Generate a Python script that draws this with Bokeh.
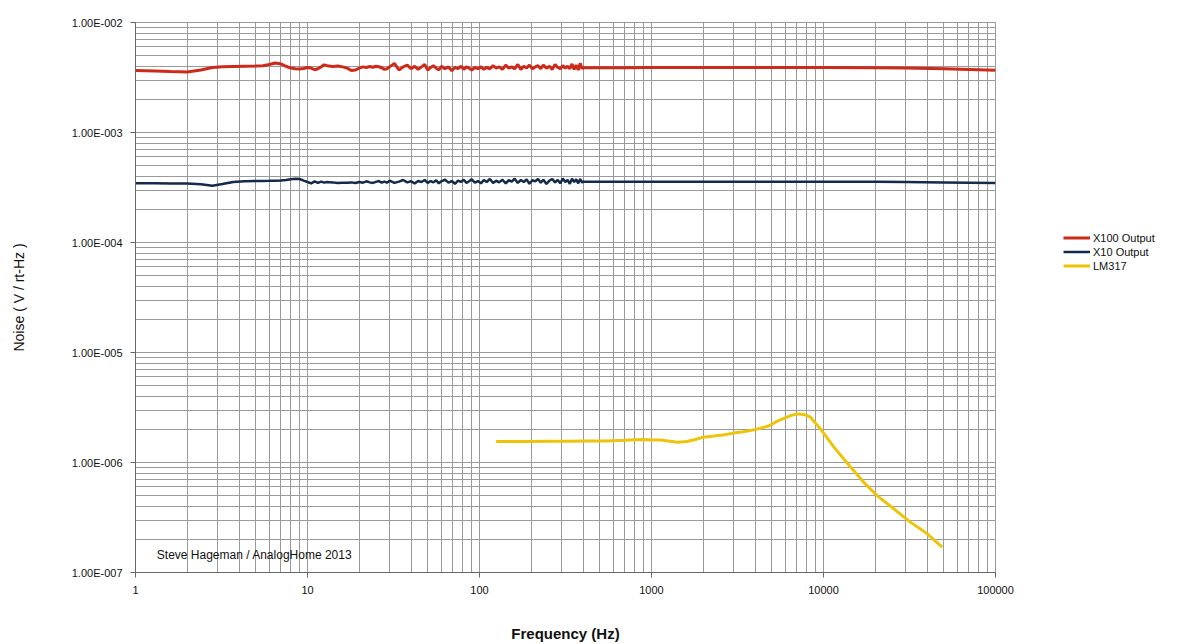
from bokeh.plotting import figure
from bokeh.layouts import row
from bokeh.models import (Range1d, FixedTicker, CustomJSTickFormatter, Legend,
                          LegendItem, Label)
from bokeh.embed import file_html
from bokeh.resources import INLINE

# ---------------- data ----------------
FREQ = [1, 1.3, 1.6, 2, 2.4, 2.8, 3.2, 3.7, 4.3, 5,
        5.5, 6, 6.5, 7, 7.5, 8, 8.5, 9, 9.5, 10,
        10.5, 11, 11.5, 12, 12.5, 13, 14, 15, 16, 17,
        18, 19, 20, 21, 22, 23, 24, 25, 26, 27,
        28, 29, 30, 32, 34, 36, 38, 40, 42, 44,
        46, 48, 50, 52, 54, 56, 58, 60, 63, 66,
        69, 72, 75, 78, 81, 84, 87, 90, 94, 98,
        102, 106, 110, 115, 120, 125, 130, 136, 142, 148,
        154, 160, 167, 174, 181, 188, 195, 203, 211, 219,
        227, 235, 245, 255, 265, 275, 285, 295, 305, 315,
        325, 335, 345, 355, 365, 375, 385, 395, 400, 410,
        500, 700, 1000, 2000, 5000, 10000, 20000, 30000, 50000, 100000]

X100_mV = [3.66, 3.62, 3.58, 3.55, 3.70, 3.90, 3.96, 3.98, 4.00, 4.02,
           4.05, 4.15, 4.28, 4.20, 4.00, 3.85, 3.80, 3.78, 3.82, 3.90,
           3.85, 3.72, 3.80, 3.95, 4.12, 4.05, 3.98, 4.02, 3.95, 3.85,
           3.66, 3.70, 3.85, 3.95, 3.90, 3.98, 3.92, 4.00, 3.96, 3.88,
           3.75, 3.80, 3.95, 4.25, 3.70, 3.95, 4.10, 3.80, 4.00, 3.75,
           3.95, 4.15, 3.70, 3.90, 4.05, 3.85, 3.70, 4.00, 3.80, 3.95,
           3.65, 3.90, 3.80, 4.00, 3.75, 3.95, 3.85, 3.70, 3.90, 3.80,
           3.95, 3.75, 3.90, 3.80, 4.05, 3.85, 3.95, 3.75, 4.10, 3.85,
           3.95, 3.80, 4.15, 3.75, 4.00, 3.85, 4.10, 3.80, 3.95, 4.05,
           3.80, 4.10, 3.85, 4.00, 3.75, 4.15, 3.90, 3.80, 4.05, 3.85,
           4.00, 3.80, 4.20, 3.75, 4.10, 3.70, 4.25, 3.80, 3.90, 3.88,
           3.88, 3.88, 3.90, 3.90, 3.90, 3.90, 3.88, 3.85, 3.80, 3.68]

X10_100uV = [3.45, 3.45, 3.44, 3.44, 3.38, 3.28, 3.40, 3.55, 3.60, 3.62,
             3.63, 3.64, 3.65, 3.66, 3.70, 3.76, 3.80, 3.78, 3.65, 3.55,
             3.45, 3.60, 3.48, 3.58, 3.50, 3.55, 3.52, 3.48, 3.50, 3.50,
             3.52, 3.48, 3.55, 3.50, 3.60, 3.52, 3.48, 3.56, 3.62, 3.50,
             3.58, 3.50, 3.65, 3.48, 3.58, 3.70, 3.52, 3.60, 3.45, 3.62,
             3.55, 3.70, 3.48, 3.62, 3.52, 3.68, 3.45, 3.60, 3.72, 3.50,
             3.62, 3.42, 3.65, 3.55, 3.72, 3.48, 3.60, 3.75, 3.50, 3.62,
             3.45, 3.70, 3.55, 3.78, 3.48, 3.65, 3.52, 3.72, 3.45, 3.68,
             3.58, 3.80, 3.48, 3.70, 3.55, 3.75, 3.42, 3.68, 3.60, 3.78,
             3.50, 3.72, 3.40, 3.65, 3.78, 3.52, 3.70, 3.45, 3.82, 3.55,
             3.70, 3.42, 3.80, 3.55, 3.75, 3.45, 3.78, 3.50, 3.58, 3.56,
             3.56, 3.56, 3.56, 3.56, 3.56, 3.56, 3.56, 3.55, 3.52, 3.48]

LM_FREQ = [125, 160, 200, 260, 330, 420, 520, 600, 700, 800,
           900, 1000, 1130, 1250, 1410, 1600, 1800, 2000, 2300, 2600,
           3000, 3400, 3760, 4300, 4800, 5380, 6000, 6500, 7030, 7800,
           8400, 9610, 11500, 14360, 17150, 20500, 25600, 32000, 40100, 49000]
LM317_uV = [1.55, 1.55, 1.55, 1.56, 1.56, 1.57, 1.57, 1.58, 1.59, 1.61,
            1.62, 1.60, 1.60, 1.57, 1.53, 1.55, 1.62, 1.70, 1.74, 1.78,
            1.85, 1.90, 1.95, 2.05, 2.15, 2.38, 2.55, 2.68, 2.77, 2.72,
            2.58, 2.02, 1.38, 0.91, 0.66, 0.50, 0.38, 0.287, 0.225, 0.17]

X_TICKS = [1, 10, 100, 1000, 10000, 100000]
Y_TICKS = [1e-7, 1e-6, 1e-5, 1e-4, 1e-3, 1e-2]
SERIES_NAMES = ["X100 Output", "X10 Output", "LM317"]
SERIES_COLORS = ["#cc2a1a", "#142a48", "#ecc40a"]
SERIES_WIDTHS = [3, 2.5, 3]
CREDIT = "Steve Hageman / AnalogHome 2013"

x100 = [v * 1e-3 for v in X100_mV]
x10 = [v * 1e-4 for v in X10_100uV]
lm = [v * 1e-6 for v in LM317_uV]

x_minor = [m * d for d in X_TICKS[:-1] for m in range(2, 10)]
y_minor = [m * d for d in Y_TICKS[:-1] for m in range(2, 10)]

FONT = "Liberation Sans"
GRID = "#9a9a9a"

p = figure(width=1040, height=644, x_axis_type="log", y_axis_type="log",
           x_range=Range1d(1, 100000), y_range=Range1d(1e-7, 1e-2),
           output_backend="svg", toolbar_location=None,
           min_border_left=135, min_border_top=22, min_border_right=45,
           min_border_bottom=72,
           background_fill_color="white", border_fill_color="white",
           outline_line_color=GRID)

p.xaxis.ticker = FixedTicker(ticks=X_TICKS, minor_ticks=x_minor)
p.yaxis.ticker = FixedTicker(ticks=Y_TICKS, minor_ticks=y_minor)
p.xaxis.formatter = CustomJSTickFormatter(code="return tick.toFixed(0);")
p.yaxis.formatter = CustomJSTickFormatter(code="""
const parts = tick.toExponential(2).split('e');
const n = parseInt(parts[1]);
return parts[0] + 'E' + (n < 0 ? '-' : '') + String(Math.abs(n)).padStart(3, '0');
""")

for ax in (p.xaxis, p.yaxis):
    ax.major_label_text_font = FONT
    ax.major_label_text_font_size = "11px"
    ax.major_label_text_color = "#111111"
    ax.axis_label_text_font = FONT
    ax.axis_label_text_color = "#111111"
    ax.axis_label_text_font_style = "normal"
    ax.major_tick_in = 0
    ax.major_tick_out = 5
    ax.minor_tick_line_color = None
    ax.axis_line_color = "#666666"
    ax.major_tick_line_color = "#666666"

p.xaxis.axis_label = "Frequency (Hz)"
p.xaxis.axis_label_text_font_size = "15px"
p.xaxis.axis_label_text_font_style = "bold"
p.xaxis.axis_label_standoff = 28
p.xaxis.major_label_standoff = 8

p.yaxis.axis_label = "Noise ( V / rt-Hz )"
p.yaxis.axis_label_text_font_size = "14px"
p.yaxis.axis_label_standoff = 42
p.yaxis.major_label_standoff = 8

for g in (p.xgrid, p.ygrid):
    g.grid_line_color = GRID
    g.grid_line_width = 1
    g.minor_grid_line_color = GRID
    g.minor_grid_line_width = 1

p.line(FREQ, x100, line_color=SERIES_COLORS[0], line_width=SERIES_WIDTHS[0])
p.line(FREQ, x10, line_color=SERIES_COLORS[1], line_width=SERIES_WIDTHS[1])
p.line(LM_FREQ, lm, line_color=SERIES_COLORS[2], line_width=SERIES_WIDTHS[2])

p.add_layout(Label(x=1.33, y=1.43e-7, text=CREDIT, text_font=FONT,
                   text_font_size="12px", text_color="#111111",
                   text_baseline="middle"))

# ---- legend in a side panel (outside the plot frame) ----
pl = figure(width=153, height=644, output_backend="svg", toolbar_location=None,
            x_range=Range1d(0, 1), y_range=Range1d(0, 1),
            x_axis_location=None, y_axis_location=None,
            min_border=0, outline_line_color=None,
            background_fill_color="white", border_fill_color="white")
pl.xgrid.visible = False
pl.ygrid.visible = False
keys = []
for name, col, lw in zip(SERIES_NAMES, SERIES_COLORS, SERIES_WIDTHS):
    # legend key only: a stub placed outside the visible range of this panel
    rk = pl.line(x=[5, 6], y=[5, 6], line_color=col, line_width=lw)
    keys.append(LegendItem(label=name, renderers=[rk]))

legend = Legend(items=keys, location=(23, 300), border_line_color=None,
                background_fill_alpha=0, label_text_font=FONT,
                label_text_font_size="11px", label_text_color="#111111",
                glyph_width=27, glyph_height=13, label_height=13,
                spacing=1, padding=0, margin=0, label_standoff=3)
pl.add_layout(legend, "center")

open("out.html", "w").write(file_html(row(p, pl), INLINE))
